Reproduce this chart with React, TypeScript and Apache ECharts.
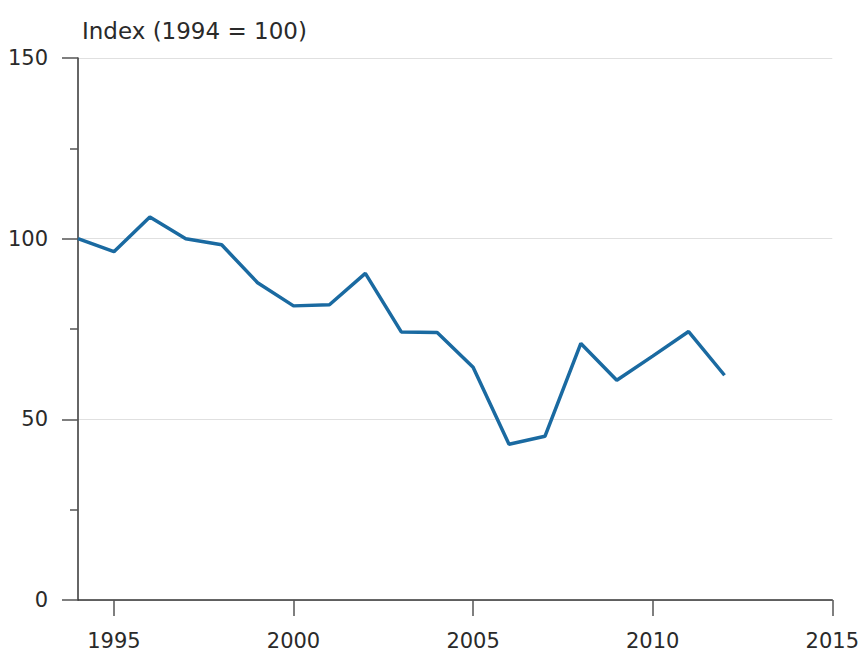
import React, { useEffect, useRef } from "react";
import * as echarts from "echarts";

const years = Array.from({ length: 22 }, (_, i) => String(1994 + i));
const indexValues = [100, 96.4, 106, 100, 98.3, 87.8, 81.4, 81.7, 90.4, 74.2, 74, 64.4, 43.1, 45.3, 71, 60.8, 67.5, 74.3, 62.2];
const yTicks = [0, 50, 100, 150];
const titleText = "Index (1994 = 100)";

const FONT = "'DejaVu Sans', 'Open Sans', sans-serif";
const TEXT = "#2a2a2a";

export default function App() {
  const ref = useRef<HTMLDivElement>(null);
  useEffect(() => {
    if (!ref.current) return;
    const chart = echarts.init(ref.current, null, { renderer: "svg" });
    chart.setOption({
      animation: false,
      title: {
        text: titleText,
        left: 77,
        top: 14,
        textStyle: { fontFamily: FONT, fontSize: 23, fontWeight: "normal", color: TEXT },
      },
      grid: { left: 78, right: 29, top: 58, bottom: 55, containLabel: false },
      xAxis: {
        type: "category",
        data: years,
        boundaryGap: false,
        axisLine: { lineStyle: { color: "#333", width: 1.5 } },
        axisTick: {
          show: true,
          length: 16,
          interval: (i: number, v: string) => Number(v) % 5 === 0,
          lineStyle: { color: "#555", width: 1.5 },
        },
        axisLabel: {
          interval: (i: number, v: string) => Number(v) % 5 === 0,
          margin: 30,
          fontFamily: FONT,
          fontSize: 21,
          color: TEXT,
        },
        splitLine: { show: false },
      },
      yAxis: {
        type: "value",
        min: yTicks[0],
        max: yTicks[yTicks.length - 1],
        interval: 50,
        axisLine: { show: true, lineStyle: { color: "#333", width: 1.5 } },
        axisTick: { show: true, length: 16, lineStyle: { color: "#555", width: 1.5 } },
        minorTick: { show: true, splitNumber: 2, length: 8, lineStyle: { color: "#555", width: 1.5 } },
        axisLabel: {
          margin: 30,
          fontFamily: FONT,
          fontSize: 21,
          color: TEXT,
        },
        splitLine: { show: true, lineStyle: { color: "#e0e0e0", width: 1 } },
      },
      series: [
        {
          type: "line",
          data: indexValues,
          showSymbol: false,
          symbol: "none",
          lineStyle: { color: "#1a6aa1", width: 3.5 },
          itemStyle: { color: "#1a6aa1" },
        },
      ],
    });
    return () => chart.dispose();
  }, []);
  return <div ref={ref} style={{ width: 862, height: 655, position: "absolute", left: 0, top: 0 }} />;
}
